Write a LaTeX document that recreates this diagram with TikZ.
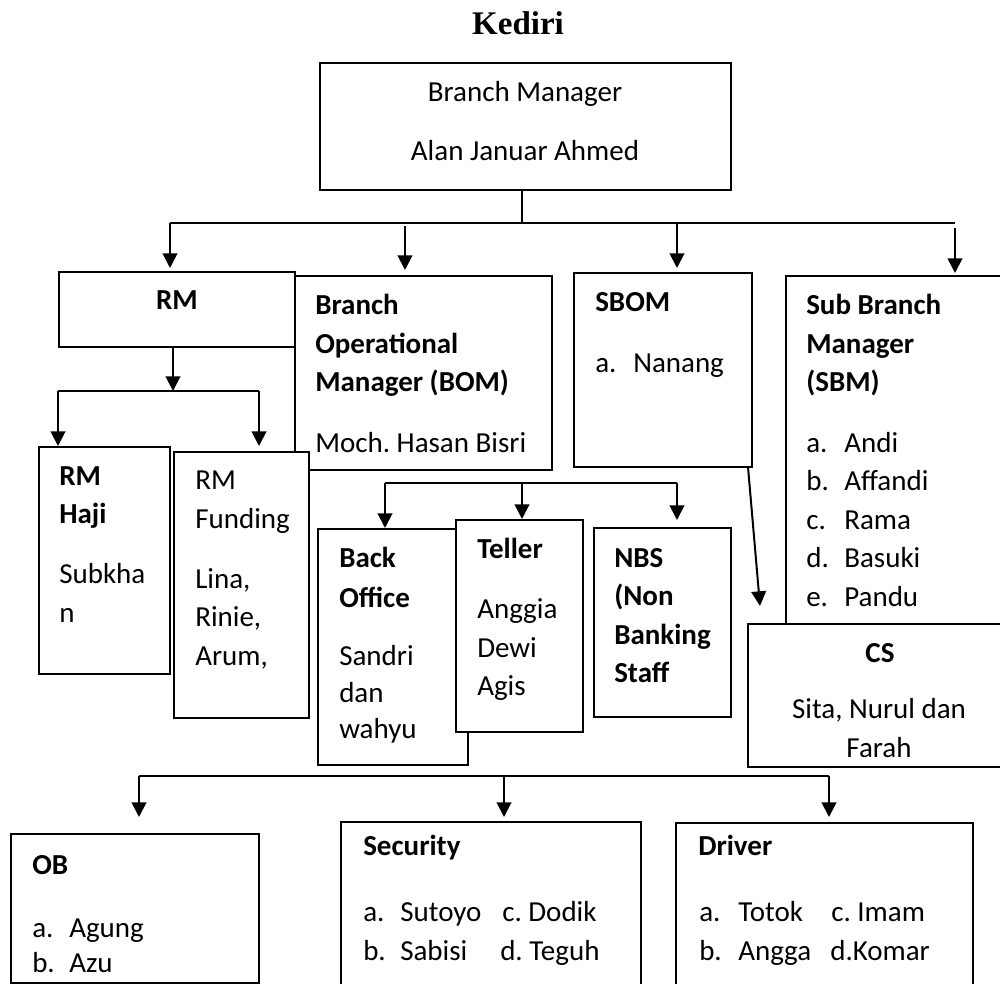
\documentclass[tikz,border=0pt]{standalone}
\usepackage{fontspec}
\setmainfont{Carlito}
\newfontfamily\titlefont{Liberation Serif}
\usetikzlibrary{arrows.meta}
\frenchspacing

\tikzset{
  size/.style 2 args={minimum width=#1*0.75pt, minimum height=#2*0.75pt},
  box/.style={draw, line width=1.1pt, rectangle, inner sep=0pt, outer sep=0pt, anchor=north west},
  wbox/.style={box, fill=white},
  link/.style={line width=1.4pt},
  arr/.style={line width=1.5pt, -{Triangle[length=11pt,width=11pt]}},
  txt/.style={inner sep=0pt, anchor=base west, font=\fontsize{21.75}{26}\selectfont},
  hd/.style={txt, font=\fontsize{21.75}{26}\selectfont\bfseries},
}

\begin{document}
\begin{tikzpicture}[x=0.75pt,y=0.75pt,yscale=-1,xscale=1]
\path[use as bounding box] (0,0) rectangle (1000,984);
\clip (0,0) rectangle (1000,984);

% Title
\node[inner sep=0pt, anchor=base, font=\titlefont\bfseries\fontsize{24.75}{30}\selectfont] (title) at (518,35) {Kediri};

%Shape: Rectangle [Branch Manager]
\node[box, size={411}{127}] (bm) at (320,63) {};
%Shape: Rectangle [RM]
\node[box, size={236}{75}] (rm) at (59,272) {};
%Shape: Rectangle [BOM]
\node[box, size={257}{194}] (bom) at (295,276) {};
%Shape: Rectangle [RM Funding]
\node[wbox, size={135}{266}] (rmf) at (174,452) {};
%Shape: Rectangle [RM Haji]
\node[box, size={131}{227}] (rmh) at (39,447) {};
%Shape: Rectangle [SBOM]
\node[box, size={178}{194}] (sbom) at (574,273) {};
%Shape: Rectangle [SBM]
\node[box, size={240}{348}] (sbm) at (786,276) {};
%Shape: Rectangle [CS]
\node[wbox, size={272}{143}] (cs) at (748,624) {};
%Shape: Rectangle [Back Office]
\node[box, size={150}{236}] (back) at (318,529) {};
%Shape: Rectangle [Teller]
\node[wbox, size={127}{212}] (tel) at (456,520) {};
%Shape: Rectangle [NBS]
\node[box, size={137}{189}] (nbs) at (594,528) {};
%Shape: Rectangle [OB]
\node[box, size={248}{149}] (ob) at (11,834) {};
%Shape: Rectangle [Security]
\node[box, size={300}{180}] (sec) at (341,822) {};
%Shape: Rectangle [Driver]
\node[box, size={297}{180}] (drv) at (676,823) {};

% Connection points
\coordinate (bmj) at (522,223);
\coordinate (b1l) at (170,223);
\coordinate (b1r) at (955,223);
\coordinate (b1b) at (405,226);
\coordinate (b1c) at (677,223);
\coordinate (b1d) at (955,228);
\coordinate (rmj) at (173,391);
\coordinate (b2l) at (58,391);
\coordinate (b2r) at (259,391);
\coordinate (b3l) at (385,483);
\coordinate (b3m) at (522,483);
\coordinate (b3r) at (677,483);
\coordinate (csin) at (760,606);
\coordinate (b4l) at (139,776);
\coordinate (b4m) at (504,776);
\coordinate (b4r) at (829,776);

% Connection
\draw[link] (bmj |- bm.south) -- (bmj);
\draw[link] (b1l) -- (b1r);
\draw[arr, shorten >=3pt] (b1l) -- (b1l |- rm.north);
\draw[arr, shorten >=4.5pt] (b1b) -- (b1b |- bom.north);
\draw[arr, shorten >=3.75pt] (b1c) -- (b1c |- sbom.north);
\draw[arr, shorten >=2.25pt] (b1d) -- (b1d |- sbm.north);
% Connection
\draw[arr] (rmj |- rm.south) -- (rmj);
\draw[link] (b2l) -- (b2r);
\draw[arr, shorten >=0.75pt] (b2l) -- (b2l |- rmh.north);
\draw[arr, shorten >=4.5pt] (b2r) -- (b2r |- rmf.north);
% Connection
\draw[link] (b3l) -- (b3r);
\draw[arr, shorten >=0.75pt] (b3l) -- (b3l |- back.north);
\draw[arr, shorten >=0.75pt] (b3m) -- (b3m |- tel.north);
\draw[arr, shorten >=6pt] (b3r) -- (b3r |- nbs.north);
% Connection
\draw[arr] ([xshift=-3pt]sbom.south east) -- (csin);
% Connection
\draw[link] (b4l) -- (b4r);
\draw[arr, shorten >=12.75pt] (b4l) -- (b4l |- ob.north);
\draw[arr, shorten >=3.75pt] (b4m) -- (b4m |- sec.north);
\draw[arr, shorten >=4.5pt] (b4r) -- (b4r |- drv.north);

% Text Node
\node[txt, anchor=base] (bm1) at (525,102) {Branch Manager};
\node[txt, anchor=base] (bm2) at (525,161) {Alan Januar Ahmed};
% Text Node
\node[hd, anchor=base] (rmt) at (177,310) {RM};
% Text Node
\node[hd] (bom1) at (315,315) {Branch};
\node[hd] (bom2) at (315,353.5) {Operational};
\node[hd] (bom3) at (315,392) {Manager (BOM)};
\node[txt] (bom4) at (315,452) {Moch. Hasan Bisri};
% Text Node
\node[hd] (sbom1) at (595,312) {SBOM};
\node[txt] (sbom2) at (595,373) {a.};
\node[txt] (sbom3) at (633,373) {Nanang};
% Text Node
\node[hd] (sbm1) at (806,315) {Sub Branch};
\node[hd] (sbm2) at (806,353.5) {Manager};
\node[hd] (sbm3) at (806,392) {(SBM)};
\foreach \i/\l/\n in {0/a/Andi,1/b/Affandi,2/c/Rama,3/d/Basuki,4/e/Pandu}{
  \node[txt] (sbml-\i) at (806,452+38.5*\i) {\l.};
  \node[txt] (sbmn-\i) at (844,452+38.5*\i) {\n};
}
% Text Node
\node[hd] (rmh1) at (59,485) {RM};
\node[hd] (rmh2) at (59,523) {Haji};
\node[txt] (rmh3) at (59,583) {Subkha};
\node[txt] (rmh4) at (59,622) {n};
% Text Node
\node[txt] (rmf1) at (195,489) {RM};
\node[txt] (rmf2) at (195,528) {Funding};
\node[txt] (rmf3) at (195,588) {Lina,};
\node[txt] (rmf4) at (195,626.5) {Rinie,};
\node[txt] (rmf5) at (195,665) {Arum,};
% Text Node
\node[hd] (back1) at (339,567) {Back};
\node[hd] (back2) at (339,607) {Office};
\node[txt] (back3) at (339,665) {Sandri};
\node[txt] (back4) at (339,702) {dan};
\node[txt] (back5) at (339,738) {wahyu};
% Text Node
\node[hd] (tel1) at (477,558) {Teller};
\node[txt] (tel2) at (477,618) {Anggia};
\node[txt] (tel3) at (477,657) {Dewi};
\node[txt] (tel4) at (477,695) {Agis};
% Text Node
\node[hd] (nbs1) at (614,567) {NBS};
\node[hd] (nbs2) at (614,605.5) {(Non};
\node[hd] (nbs3) at (614,644) {Banking};
\node[hd] (nbs4) at (614,682) {Staff};
% Text Node
\node[hd, anchor=base] (cs1) at (880,662) {CS};
\node[txt, anchor=base] (cs2) at (879,718) {Sita, Nurul dan};
\node[txt, anchor=base] (cs3) at (879,757) {Farah};
% Text Node
\node[hd] (ob1) at (32,874) {OB};
\node[txt] (ob2) at (32,937) {a.};
\node[txt] (ob3) at (69,937) {Agung};
\node[txt] (ob4) at (32,972) {b.};
\node[txt] (ob5) at (69,972) {Azu};
% Text Node
\node[hd] (sec1) at (363,855) {Security};
\node[txt] (sec2) at (363,921) {a.};
\node[txt] (sec3) at (400,921) {Sutoyo};
\node[txt] (sec4) at (502,921) {c. Dodik};
\node[txt] (sec5) at (363,960) {b.};
\node[txt] (sec6) at (400,960) {Sabisi};
\node[txt] (sec7) at (500,960) {d. Teguh};
% Text Node
\node[hd] (drv1) at (698,855) {Driver};
\node[txt] (drv2) at (699,921) {a.};
\node[txt] (drv3) at (738,921) {Totok};
\node[txt] (drv4) at (831,921) {c. Imam};
\node[txt] (drv5) at (699,960) {b.};
\node[txt] (drv6) at (738,960) {Angga};
\node[txt] (drv7) at (830,960) {d.Komar};

\end{tikzpicture}
\end{document}
